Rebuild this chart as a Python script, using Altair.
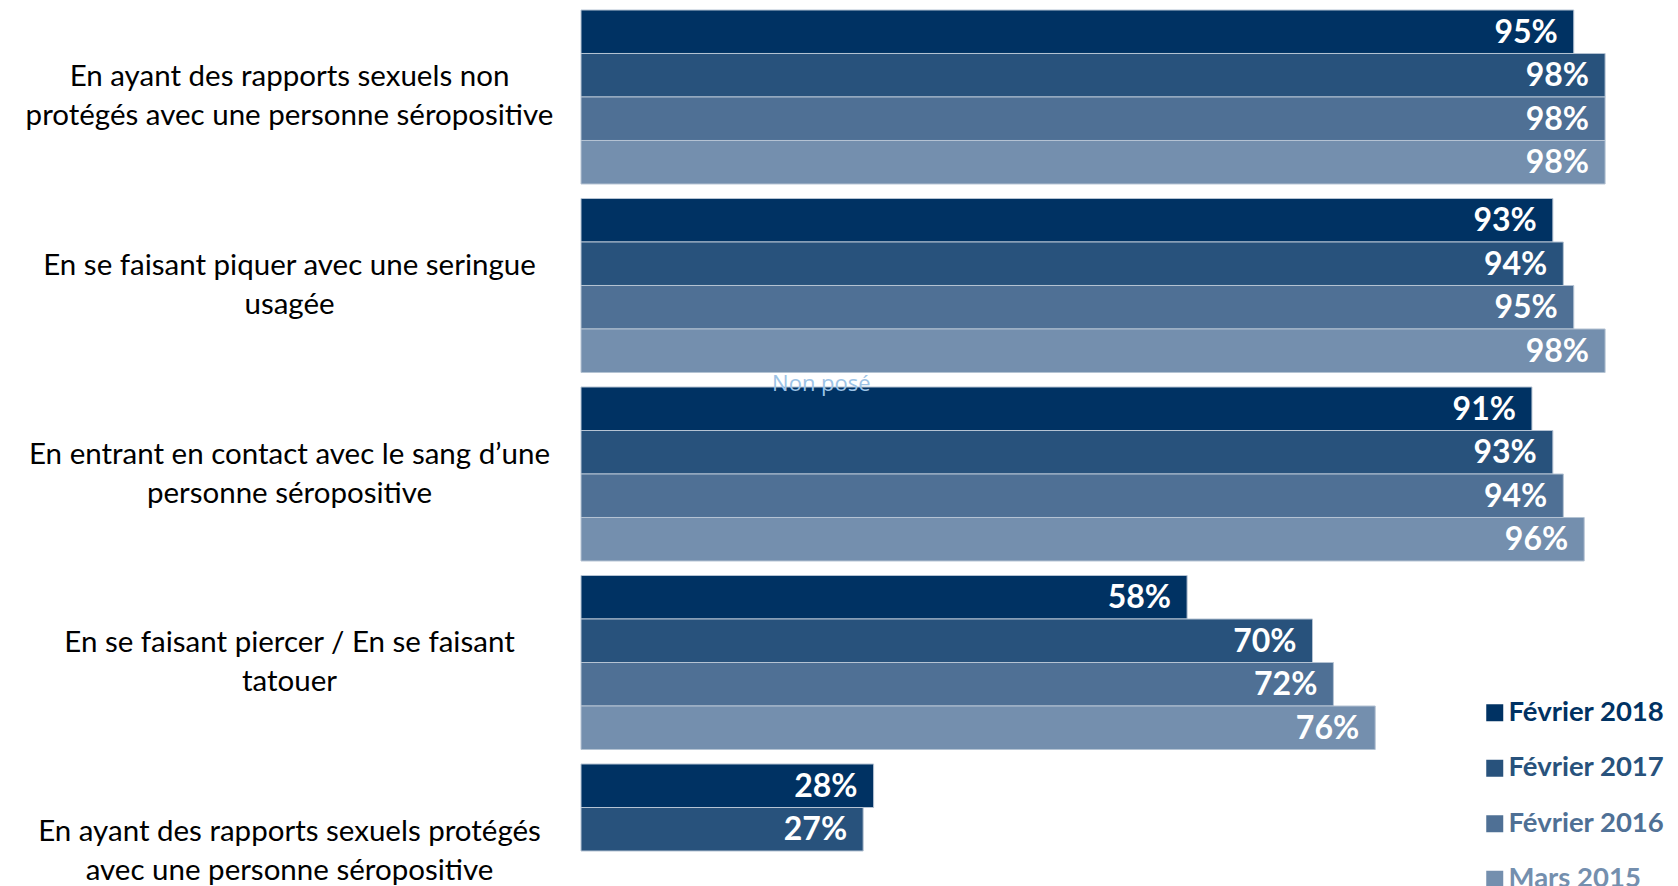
import altair as alt
import pandas as pd

# ---- data ----
categories = [
    "En ayant des rapports sexuels non\nprotégés avec une personne séropositive",
    "En se faisant piquer avec une seringue\nusagée",
    "En entrant en contact avec le sang d’une\npersonne séropositive",
    "En se faisant piercer / En se faisant\ntatouer",
    "En ayant des rapports sexuels protégés\navec une personne séropositive",
]
series = ["Février 2018", "Février 2017", "Février 2016", "Mars 2015"]
values_2018 = [95, 93, 91, 58, 28]
values_2017 = [98, 94, 93, 70, 27]
values_2016 = [98, 95, 94, 72, None]
values_2015 = [98, 98, 96, 76, None]
colors = ["#003263", "#28527c", "#4f7095", "#748fae"]

note_text = "Non posé"

rows = []
for s, vals in zip(series, [values_2018, values_2017, values_2016, values_2015]):
    for c, v in zip(categories, vals):
        if v is not None:
            rows.append({"categorie": c, "serie": s, "valeur": v})
df = pd.DataFrame(rows)

note_df = pd.DataFrame(
    {"categorie": [categories[2]], "serie": [series[0]], "valeur": [23], "note": [note_text]}
)

y_enc = alt.Y(
    "categorie:N",
    sort=categories,
    scale=alt.Scale(domain=categories, range=[0, 928], paddingInner=0.077, paddingOuter=0),
    axis=alt.Axis(
        title=None,
        labelExpr="split(datum.label, '\\n')",
        labelAlign="center",
        labelBaseline="middle",
        labelPadding=292,
        labelOffset=-19.5,
        labelLimit=800,
        labelFont="Lato",
        labelFontSize=29.5,
        labelColor="#000000",
        labelLineHeight=39,
        ticks=False,
        tickSize=0,
        domain=False,
        grid=False,
    ),
)
yoff_enc = alt.YOffset(
    "serie:N", sort=series, scale=alt.Scale(domain=series, paddingInner=0, paddingOuter=0)
)
x_enc = alt.X("valeur:Q", scale=alt.Scale(domain=[0, 100]), axis=None)

bars = (
    alt.Chart(df)
    .mark_bar(stroke="#b5c3d3", strokeWidth=1)
    .encode(
        y=y_enc,
        yOffset=yoff_enc,
        x=x_enc,
        color=alt.Color(
            "serie:N",
            sort=series,
            scale=alt.Scale(domain=series, range=colors),
            legend=alt.Legend(
                title=None,
                orient="none",
                legendX=900,
                legendY=689,
                symbolType="square",
                symbolSize=289,
                symbolStrokeWidth=0,
                labelFont="Lato",
                labelFontSize=27.5,
                labelFontWeight="bold",
                labelColor=alt.ExprRef("scale('color', datum.value)"),
                labelOffset=0,
                rowPadding=26.5,
                labelLimit=400,
            ),
        ),
    )
)

labels = (
    alt.Chart(df)
    .transform_calculate(txt="datum.valeur + '%'")
    .mark_text(
        align="right",
        baseline="middle",
        dx=-16,
        dy=1,
        font="Lato",
        fontSize=32,
        fontWeight="bold",
        color="white",
    )
    .encode(y=y_enc, yOffset=yoff_enc, x=x_enc, text="txt:N")
)

note = (
    alt.Chart(note_df)
    .mark_text(
        align="center",
        baseline="middle",
        dy=-25,
        font="Open Sans",
        fontSize=22,
        color="#9dc3e6",
    )
    .encode(y=y_enc, yOffset=yoff_enc, x=x_enc, text="note:N")
)

chart = (
    alt.layer(bars, labels, note)
    .properties(
        width=1045,
        height=876,
        autosize=alt.AutoSizeParams(type="none"),
        padding={"left": 573, "top": 2, "right": 44, "bottom": 0},
        background="white",
    )
    .configure_view(stroke=None)
)

chart.save("out.html", embed_options={"renderer": "svg", "actions": False})
